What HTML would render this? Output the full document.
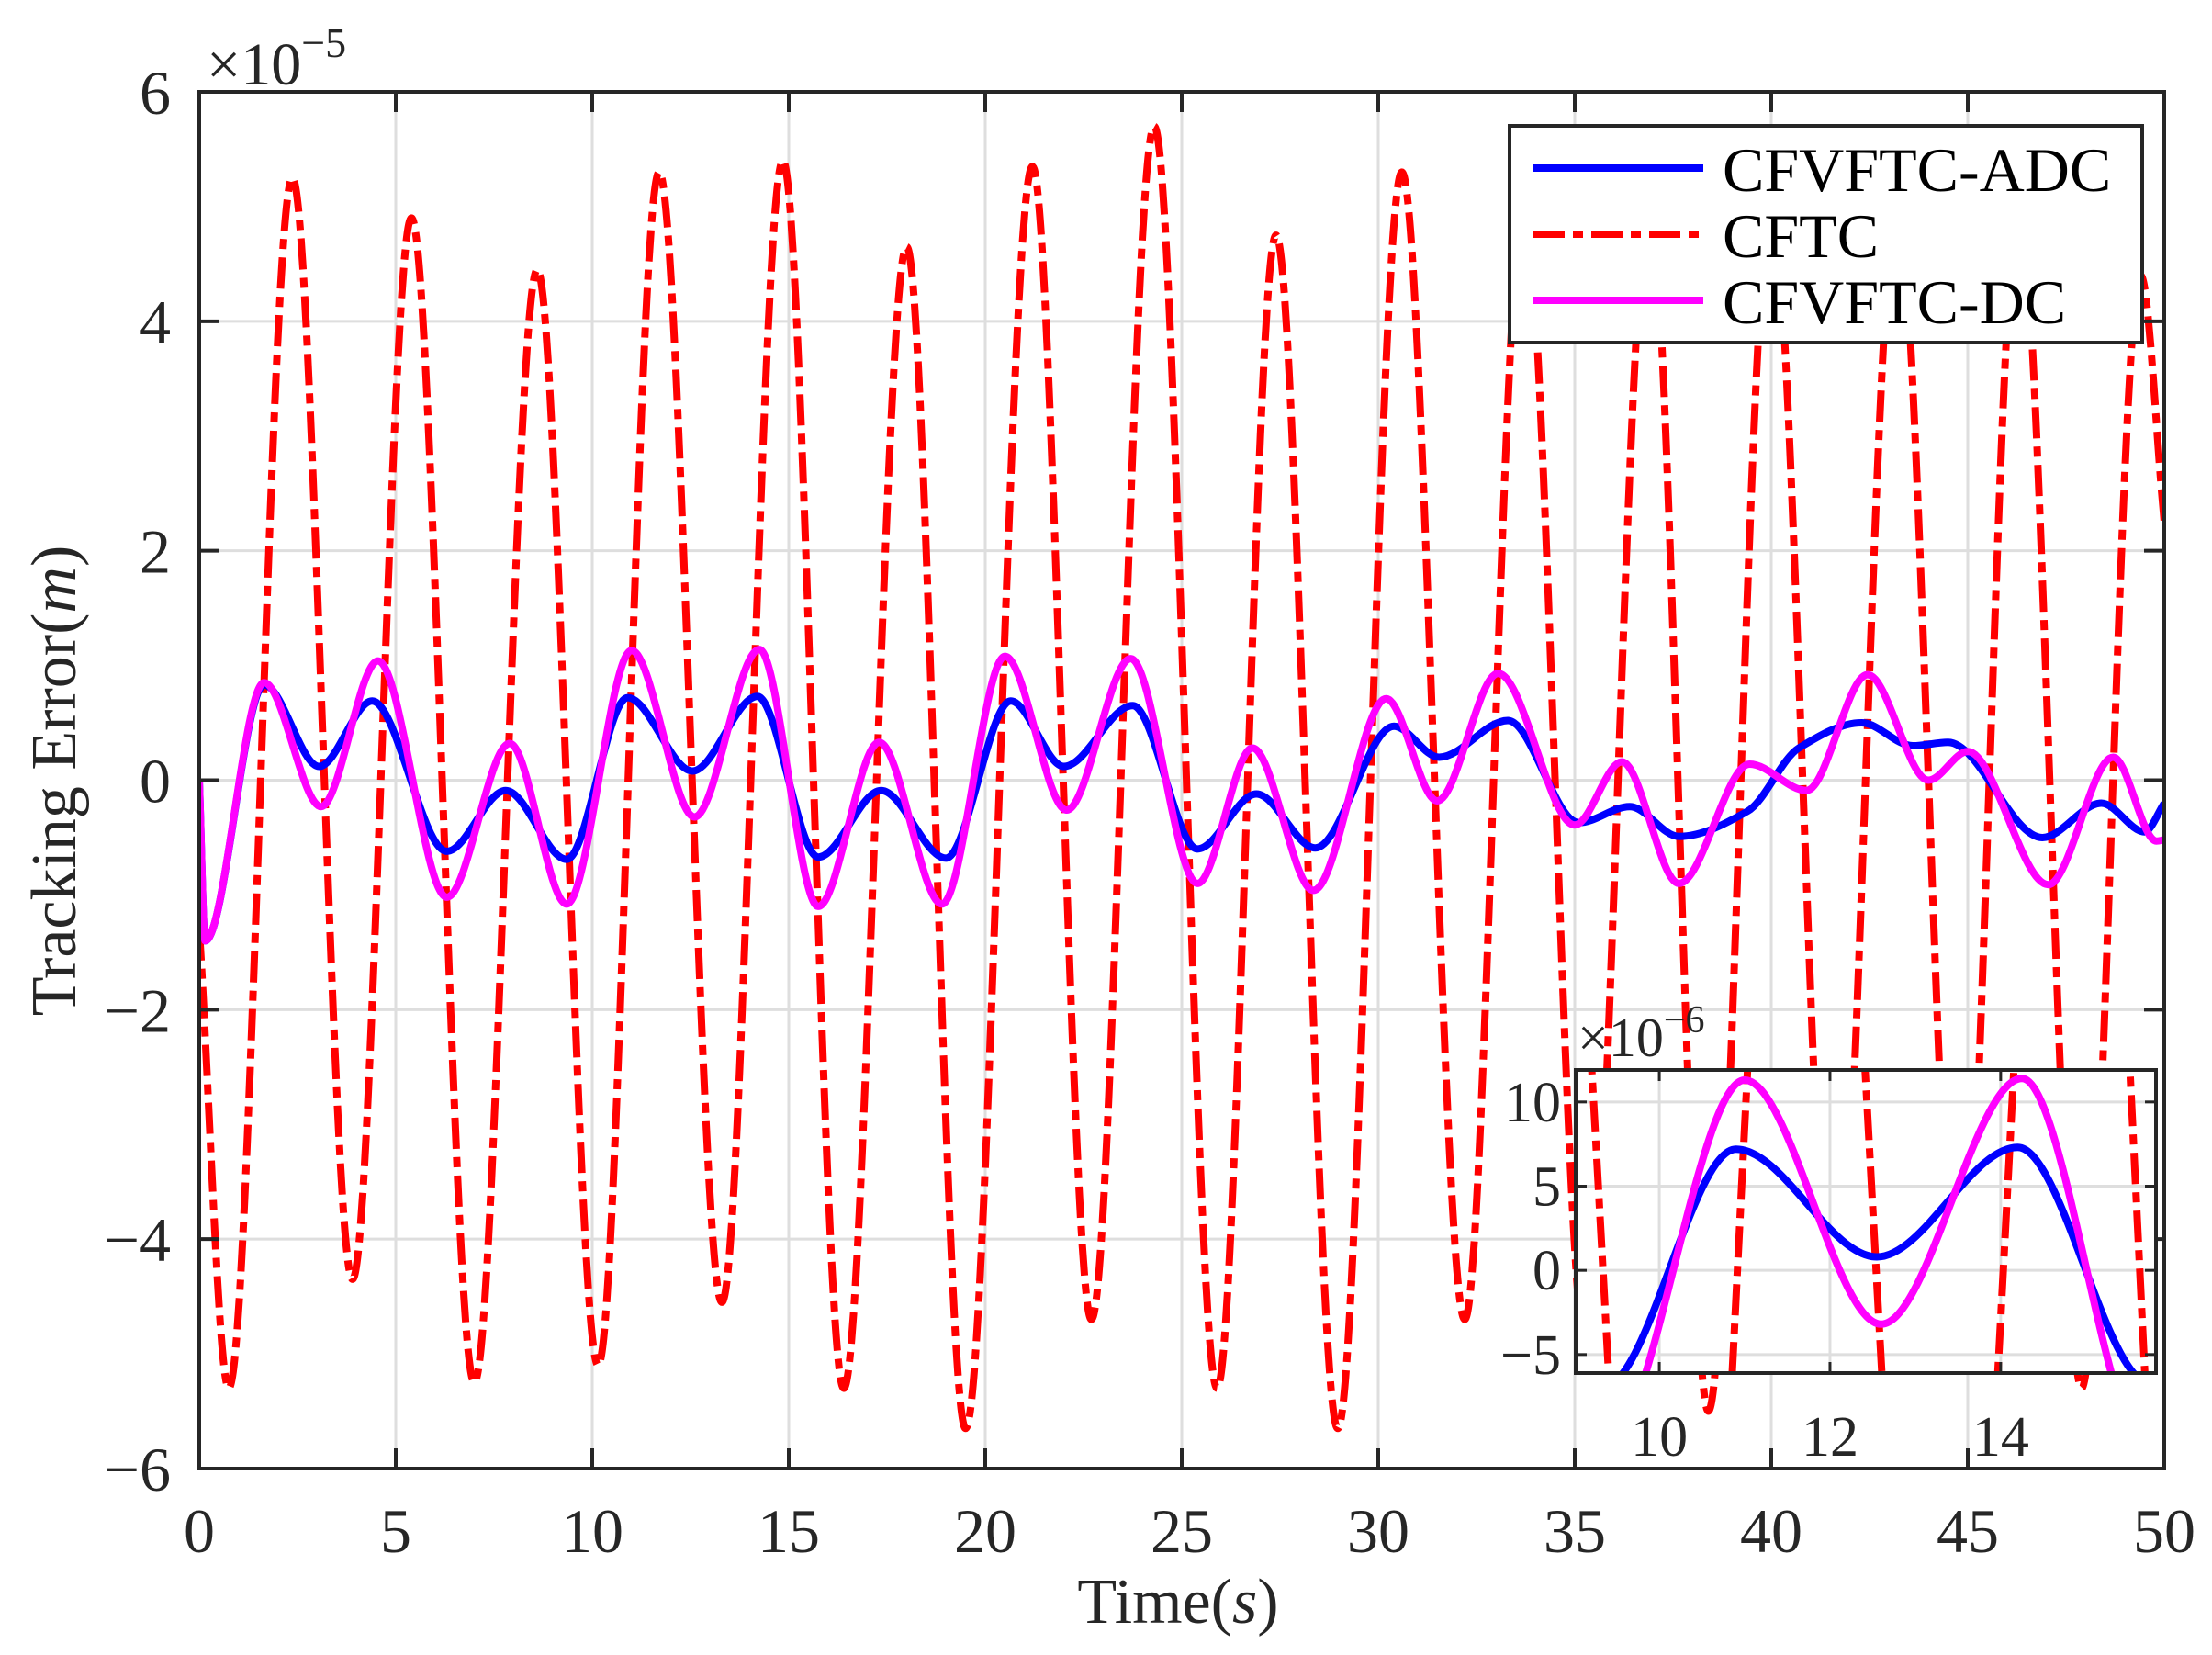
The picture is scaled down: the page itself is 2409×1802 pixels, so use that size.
<!DOCTYPE html>
<html><head><meta charset="utf-8">
<style>
html,body{margin:0;padding:0;background:#fff;width:2409px;height:1802px;overflow:hidden;}
svg{display:block;font-family:"Liberation Serif",serif;}
</style></head>
<body>
<svg id="chart" width="2409" height="1802" viewBox="0 0 2409 1802" xmlns="http://www.w3.org/2000/svg">
<defs>
<clipPath id="mainClip"><rect x="217" y="100" width="2140" height="1499"/></clipPath>
<clipPath id="insetClip"><rect x="1716" y="1165" width="632" height="330"/></clipPath>
</defs>
<rect x="0" y="0" width="2409" height="1802" fill="#fff"/>
<g id="mainGrid"></g>
<g id="mainSeries" clip-path="url(#mainClip)"></g>
<g id="mainAxes"></g>
<text x="225" y="92" font-size="66" fill="#262626">×10<tspan dy="-30" font-size="46">−5</tspan></text>
<text x="1283" y="1767" font-size="70" text-anchor="middle" fill="#262626">Time(<tspan font-style="italic">s</tspan>)</text>
<text transform="translate(82,850) rotate(-90)" font-size="70" text-anchor="middle" fill="#262626">Tracking Error(<tspan font-style="italic">m</tspan>)</text>
<g>
<rect x="1644" y="137" width="689" height="236" fill="#fff" stroke="#262626" stroke-width="4"/>
<line x1="1670" y1="183" x2="1855" y2="183" stroke="#0000ff" stroke-width="8"/>
<text x="1876" y="208" font-size="68" fill="#000">CFVFTC-ADC</text>
<line x1="1670" y1="255" x2="1855" y2="255" stroke="#ff0000" stroke-width="8" stroke-dasharray="34 9 11 9"/>
<text x="1876" y="280" font-size="68" fill="#000">CFTC</text>
<line x1="1670" y1="327" x2="1855" y2="327" stroke="#ff00ff" stroke-width="8"/>
<text x="1876" y="352" font-size="68" fill="#000">CFVFTC-DC</text>
</g>
<g id="inset">
<rect x="1716" y="1165" width="632" height="330" fill="#fff"/>
<g id="insetGrid"></g>
<g id="insetSeries" clip-path="url(#insetClip)"></g>
<g id="insetAxes"></g>
<text x="1718" y="1150" font-size="60" fill="#262626">×10<tspan dy="-26" font-size="42">−6</tspan></text>
</g>
</svg>
<script>
// ---- data (values in units of 1e-5 m) ----
const xTicks = [0,5,10,15,20,25,30,35,40,45,50];
const yTicks = [-6,-4,-2,0,2,4,6];
const yTickLabels = ["−6","−4","−2","0","2","4","6"];
const insetXTicks = [10,12,14];
const insetYTicks = [-5,0,5,10]; // units of 1e-6
const insetYTickLabels = ["−5","0","5","10"];

const adcT = [0,0.15,1.65,3.05,4.4,6.3,7.8,9.35,10.9,12.55,14.2,15.75,17.35,19.0,20.65,22.0,23.75,25.4,26.9,28.4,30.4,31.55,33.3,35.1,36.4,37.65,39.4,40.7,42.3,43.6,44.5,46.9,48.4,49.5,50];
const adcV = [0,-1.4,0.83,0.12,0.69,-0.62,-0.09,-0.69,0.72,0.08,0.73,-0.67,-0.09,-0.68,0.69,0.12,0.65,-0.6,-0.12,-0.59,0.47,0.2,0.52,-0.37,-0.23,-0.49,-0.27,0.28,0.5,0.3,0.33,-0.5,-0.2,-0.45,-0.2];

const cftcT = [0,0.75,2.37,3.9,5.4,7.0,8.6,10.15,11.7,13.3,14.85,16.4,18.0,19.5,21.2,22.7,24.3,25.9,27.4,28.97,30.6,32.2,33.7,35.3,36.9,38.4,40.0,41.6,43.2,44.8,46.3,47.9,49.4,50];
const cftcV = [-1.3,-5.3,5.25,-4.35,4.9,-5.25,4.45,-5.1,5.3,-4.55,5.4,-5.3,4.65,-5.65,5.35,-4.7,5.7,-5.3,4.75,-5.65,5.3,-4.7,5.0,-5.0,5.0,-5.5,5.0,-5.0,5.0,-5.0,5.0,-5.3,4.4,2.25];

const dcT = [0,0.15,1.65,3.1,4.55,6.3,7.9,9.35,11.0,12.6,14.25,15.75,17.3,18.9,20.5,22.07,23.7,25.4,26.8,28.35,30.2,31.5,33.05,35.0,36.2,37.65,39.45,40.9,42.45,44.0,45.0,47.05,48.7,49.8,50];
const dcV = [0,-1.4,0.85,-0.23,1.04,-1.02,0.32,-1.08,1.13,-0.32,1.14,-1.1,0.33,-1.08,1.08,-0.26,1.06,-0.9,0.28,-0.96,0.71,-0.18,0.93,-0.39,0.16,-0.9,0.14,-0.09,0.92,0.0,0.25,-0.91,0.2,-0.53,-0.52];

// ---- axes ----
const M = {x0:217, x1:2357, y0:100, y1:1599, tmin:0, tmax:50, vmin:-6, vmax:6};
const I = {x0:1716, x1:2348, y0:1165, y1:1495, tmin:9.02, tmax:15.82, vmin:-0.61, vmax:1.19};
function sx(a,t){return a.x0+(t-a.tmin)/(a.tmax-a.tmin)*(a.x1-a.x0);}
function sy(a,v){return a.y1-(v-a.vmin)/(a.vmax-a.vmin)*(a.y1-a.y0);}
const NS="http://www.w3.org/2000/svg";
function mk(tag,attrs,parent){const e=document.createElementNS(NS,tag);for(const k in attrs)e.setAttribute(k,attrs[k]);parent.appendChild(e);return e;}

function monoPath(a,T,V){
  const X=T.map(t=>sx(a,t)), Y=V.map(v=>sy(a,v)); const n=X.length;
  const d=[],m=new Array(n).fill(0);
  for(let i=0;i<n-1;i++) d.push((Y[i+1]-Y[i])/(X[i+1]-X[i]));
  m[0]=d[0]; m[n-1]=d[n-2];
  for(let i=1;i<n-1;i++){ if(d[i-1]*d[i]<=0) m[i]=0; else { m[i]=2/(1/d[i-1]+1/d[i]); } }
  let p="M"+X[0].toFixed(1)+","+Y[0].toFixed(1);
  for(let i=0;i<n-1;i++){const h=X[i+1]-X[i];
    p+=" C"+(X[i]+h/3).toFixed(1)+","+(Y[i]+m[i]*h/3).toFixed(1)+" "+(X[i+1]-h/3).toFixed(1)+","+(Y[i+1]-m[i+1]*h/3).toFixed(1)+" "+X[i+1].toFixed(1)+","+Y[i+1].toFixed(1);}
  return p;
}

const mg=document.getElementById('mainGrid');
xTicks.forEach(t=>{const l=mk('line',{x1:sx(M,t),y1:M.y0,x2:sx(M,t),y2:M.y1,stroke:'#dedede','stroke-width':3},mg);

});
yTicks.forEach(v=>{const l=mk('line',{x1:M.x0,y1:sy(M,v),x2:M.x1,y2:sy(M,v),stroke:'#dedede','stroke-width':3},mg);

});

function drawSeries(a,g,suffix){
  const r=mk('path',{d:monoPath(a,cftcT,cftcV),fill:'none',stroke:'#ff0000','stroke-width':8,'stroke-dasharray':'34 9 11 9','stroke-linejoin':'round'},g);
  
  
  const b=mk('path',{d:monoPath(a,adcT,adcV),fill:'none',stroke:'#0000ff','stroke-width':8,'stroke-linejoin':'round'},g);
  
  
  const p=mk('path',{d:monoPath(a,dcT,dcV),fill:'none',stroke:'#ff00ff','stroke-width':8,'stroke-linejoin':'round'},g);
  
  
}
drawSeries(M,document.getElementById('mainSeries'),'');

const ma=document.getElementById('mainAxes');
const box=mk('rect',{x:M.x0,y:M.y0,width:M.x1-M.x0,height:M.y1-M.y0,fill:'none',stroke:'#262626','stroke-width':4},ma);


xTicks.forEach(t=>{const x=sx(M,t);
  mk('line',{x1:x,y1:M.y1,x2:x,y2:M.y1-22,stroke:'#262626','stroke-width':4},ma);
  mk('line',{x1:x,y1:M.y0,x2:x,y2:M.y0+22,stroke:'#262626','stroke-width':4},ma);
  const tx=mk('text',{x:x,y:1690,'font-size':68,'text-anchor':'middle',fill:'#262626'},ma);
  tx.textContent=String(t);
  
  });
yTicks.forEach((v,i)=>{const y=sy(M,v);
  mk('line',{x1:M.x0,y1:y,x2:M.x0+22,y2:y,stroke:'#262626','stroke-width':4},ma);
  mk('line',{x1:M.x1,y1:y,x2:M.x1-22,y2:y,stroke:'#262626','stroke-width':4},ma);
  const tx=mk('text',{x:186,y:y+24,'font-size':68,'text-anchor':'end',fill:'#262626'},ma);
  tx.textContent=yTickLabels[i];
  
  });

const ig=document.getElementById('insetGrid');
insetXTicks.forEach(t=>{const l=mk('line',{x1:sx(I,t),y1:I.y0,x2:sx(I,t),y2:I.y1,stroke:'#dedede','stroke-width':3},ig);

});
insetYTicks.forEach(v=>{const l=mk('line',{x1:I.x0,y1:sy(I,v/10),x2:I.x1,y2:sy(I,v/10),stroke:'#dedede','stroke-width':3},ig);

});
drawSeries(I,document.getElementById('insetSeries'),'-inset');
const ia=document.getElementById('insetAxes');
const ibox=mk('rect',{x:I.x0,y:I.y0,width:I.x1-I.x0,height:I.y1-I.y0,fill:'none',stroke:'#262626','stroke-width':4},ia);


insetXTicks.forEach(t=>{const x=sx(I,t);
  mk('line',{x1:x,y1:I.y1,x2:x,y2:I.y1-12,stroke:'#262626','stroke-width':3},ia);
  mk('line',{x1:x,y1:I.y0,x2:x,y2:I.y0+12,stroke:'#262626','stroke-width':3},ia);
  const tx=mk('text',{x:x,y:1585,'font-size':62,'text-anchor':'middle',fill:'#262626'},ia);
  tx.textContent=String(t);
  
  });
insetYTicks.forEach((v,i)=>{const y=sy(I,v/10);
  mk('line',{x1:I.x0,y1:y,x2:I.x0+12,y2:y,stroke:'#262626','stroke-width':3},ia);
  mk('line',{x1:I.x1,y1:y,x2:I.x1-12,y2:y,stroke:'#262626','stroke-width':3},ia);
  const tx=mk('text',{x:1700,y:y+21,'font-size':62,'text-anchor':'end',fill:'#262626'},ia);
  tx.textContent=insetYTickLabels[i];
  
  });
</script>
</body></html>
